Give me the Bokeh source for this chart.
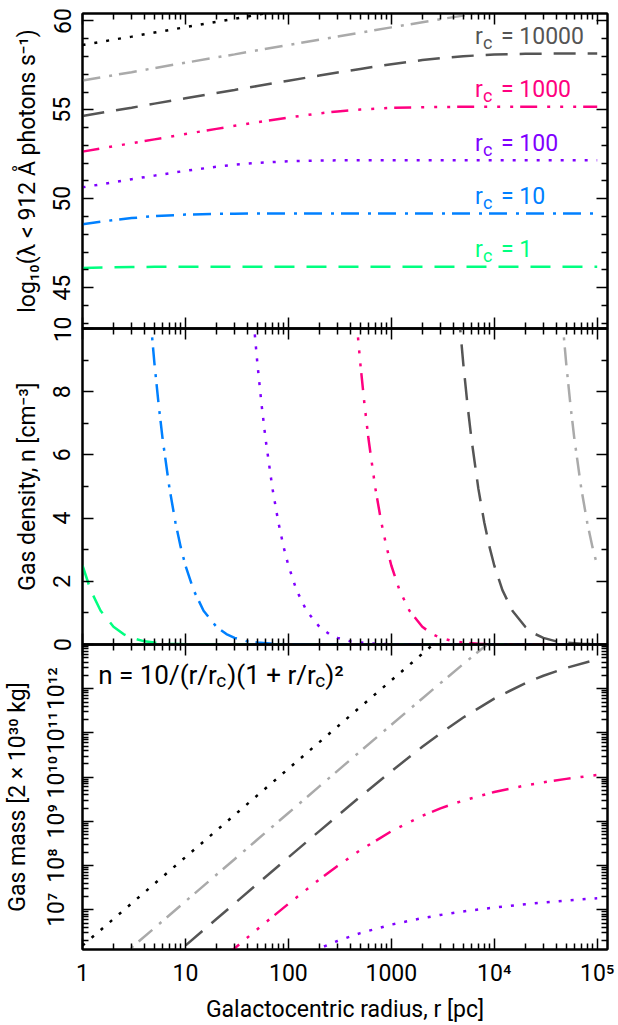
import numpy as np
from bokeh.plotting import figure
from bokeh.layouts import column
from bokeh.models import Range1d, FixedTicker, LinearAxis, LogAxis, Label
from bokeh.embed import file_html
from bokeh.resources import INLINE

# ------------------------------------------------------------------ data
# Galactocentric radius grid [pc] used by the top and bottom panels
radius_pc = [1, 2, 3, 5, 10, 20, 30, 50, 100, 200, 300, 500,
             1000, 2000, 3000, 5000, 10000, 20000, 30000, 50000, 100000]

# core radii r_c [pc] of the seven models (only five are labelled)
core_radius = ["1", "10", "100", "1000", "10000", "100000", "1000000"]
core_label = ["1", "10", "100", "1000", "10000", None, None]
line_color = ["#00FF80", "#0080FF", "#8000FF", "#FF0080", "#555555", "#AAAAAA", "#000000"]
line_dash = ["20 12", "18 9 3 7", "3 9", "17 10 3 10 3 10 3 7", "22 12", "18 9 3 7", "3 9"]

# top panel: log10 ionising photon rate (lambda < 912 A)
photons_rc1 = [46.11, 46.15, 46.16, 46.17, 46.17, 46.17, 46.17, 46.17, 46.17, 46.17, 46.17,
               46.17, 46.17, 46.17, 46.17, 46.17, 46.17, 46.17, 46.17, 46.17, 46.17]
photons_rc10 = [48.57, 48.80, 48.91, 49.02, 49.11, 49.15, 49.16, 49.17, 49.17, 49.17, 49.17,
                49.17, 49.17, 49.17, 49.17, 49.17, 49.17, 49.17, 49.17, 49.17, 49.17]
photons_rc100 = [50.64, 50.93, 51.10, 51.30, 51.57, 51.80, 51.91, 52.02, 52.11, 52.15, 52.16,
                 52.17, 52.17, 52.17, 52.17, 52.17, 52.17, 52.17, 52.17, 52.17, 52.17]
photons_rc1000 = [52.65, 52.95, 53.12, 53.34, 53.64, 53.93, 54.10, 54.30, 54.57, 54.80, 54.91,
                  55.02, 55.11, 55.15, 55.16, 55.17, 55.17, 55.17, 55.17, 55.17, 55.17]
photons_rc1e4 = [54.65, 54.95, 55.12, 55.35, 55.65, 55.95, 56.12, 56.34, 56.64, 56.93, 57.10,
                 57.30, 57.57, 57.80, 57.91, 58.02, 58.11, 58.15, 58.16, 58.17, 58.17]
photons_rc1e5 = [56.65, 56.95, 57.12, 57.35, 57.65, 57.95, 58.12, 58.35, 58.65, 58.95, 59.12,
                 59.34, 59.64, 59.93, 60.10, 60.30, 60.57, 60.80, 60.91, 61.02, 61.11]
photons_rc1e6 = [58.65, 58.95, 59.12, 59.35, 59.65, 59.95, 60.12, 60.35, 60.65, 60.95, 61.12,
                 61.35, 61.65, 61.95, 62.12, 62.35, 62.64, 62.93, 63.10, 63.30, 63.57]
photons = [photons_rc1, photons_rc10, photons_rc100, photons_rc1000,
           photons_rc1e4, photons_rc1e5, photons_rc1e6]

# middle panel: gas density n [cm^-3]
dens_r_rc1 = [1, 1.2, 1.5, 2, 2.5, 3, 4, 5, 7, 10, 20, 100000]
dens_n_rc1 = [2.50, 1.72, 1.07, 0.56, 0.33, 0.21, 0.10, 0.06, 0.02, 0.01, 0.00, 0.00]
dens_r_rc10 = [4.5, 5, 5.5, 6, 7, 8, 9, 10, 12, 15, 20, 25, 30, 40, 50, 70, 100, 200, 100000]
dens_n_rc10 = [10.57, 8.89, 7.57, 6.51, 4.94, 3.86, 3.08, 2.50, 1.72, 1.07, 0.56, 0.33, 0.21,
               0.10, 0.06, 0.02, 0.01, 0.00, 0.00]
dens_r_rc100 = [45, 50, 55, 60, 70, 80, 90, 100, 120, 150, 200, 250, 300, 400, 500, 700, 1000,
                2000, 100000]
dens_n_rc100 = [10.57, 8.89, 7.57, 6.51, 4.94, 3.86, 3.08, 2.50, 1.72, 1.07, 0.56, 0.33, 0.21,
                0.10, 0.06, 0.02, 0.01, 0.00, 0.00]
dens_r_rc1000 = [450, 500, 550, 600, 700, 800, 900, 1000, 1200, 1500, 2000, 2500, 3000, 4000,
                 5000, 7000, 10000, 20000, 100000]
dens_n_rc1000 = [10.57, 8.89, 7.57, 6.51, 4.94, 3.86, 3.08, 2.50, 1.72, 1.07, 0.56, 0.33, 0.21,
                 0.10, 0.06, 0.02, 0.01, 0.00, 0.00]
dens_r_rc1e4 = [4500, 5000, 5500, 6000, 7000, 8000, 9000, 10000, 12000, 15000, 20000, 25000,
                30000, 40000, 50000, 70000, 100000]
dens_n_rc1e4 = [10.57, 8.89, 7.57, 6.51, 4.94, 3.86, 3.08, 2.50, 1.72, 1.07, 0.56, 0.33, 0.21,
                0.10, 0.06, 0.02, 0.01]
dens_r_rc1e5 = [45000, 50000, 55000, 60000, 70000, 80000, 90000, 100000]
dens_n_rc1e5 = [10.57, 8.89, 7.57, 6.51, 4.94, 3.86, 3.08, 2.50]
density = [(dens_r_rc1, dens_n_rc1), (dens_r_rc10, dens_n_rc10), (dens_r_rc100, dens_n_rc100),
           (dens_r_rc1000, dens_n_rc1000), (dens_r_rc1e4, dens_n_rc1e4),
           (dens_r_rc1e5, dens_n_rc1e5)]

# bottom panel: log10 gas mass [2e30 kg] on the radius_pc grid
mass_log_rc100 = [2.183, 2.779, 3.126, 3.558, 4.133, 4.685, 4.989, 5.348, 5.776, 6.125, 6.293,
                  6.471, 6.663, 6.810, 6.882, 6.960, 7.049, 7.124, 7.163, 7.207, 7.261]
mass_log_rc1000 = [3.188, 3.790, 4.141, 4.584, 5.183, 5.779, 6.126, 6.558, 7.133, 7.685, 7.989,
                   8.348, 8.776, 9.125, 9.293, 9.471, 9.663, 9.810, 9.882, 9.960, 10.049]
mass_log_rc1e4 = [4.189, 4.791, 5.143, 5.587, 6.188, 6.790, 7.141, 7.584, 8.183, 8.779, 9.126,
                  9.558, 10.133, 10.685, 10.989, 11.348, 11.776, 12.125, 12.293, 12.471, 12.663]
mass_log_rc1e5 = [5.189, 5.791, 6.143, 6.587, 7.189, 7.791, 8.143, 8.587, 9.188, 9.790, 10.141,
                  10.584, 11.183, 11.779, 12.126, 12.558, 13.133, 13.685, 13.989, 14.348, 14.776]
mass_log_rc1e6 = [6.189, 6.791, 7.143, 7.587, 8.189, 8.791, 9.143, 9.587, 10.189, 10.791, 11.143,
                  11.587, 12.188, 12.790, 13.141, 13.584, 14.183, 14.779, 15.126, 15.558, 16.133]
mass = {2: mass_log_rc100, 3: mass_log_rc1000, 4: mass_log_rc1e4, 5: mass_log_rc1e5,
        6: mass_log_rc1e6}

x_tick_labels = {1: "1", 10: "10", 100: "100", 1000: "1000", 10000: "10\u2074", 100000: "10\u2075"}
mass_tick_labels = {1e7: "10\u2077", 1e8: "10\u2078", 1e9: "10\u2079", 1e10: "10\u00b9\u2070",
                    1e11: "10\u00b9\u00b9", 1e12: "10\u00b9\u00b2"}
formula_parts = ["n = 10/(r/r", "c", ")(1 + r/r", "c", ")\u00b2"]

# ------------------------------------------------------------------ style
FONT = "Roboto"
FS = "23px"
W = 618
LEFT, RIGHT = 81, 11
EXT = 12  # canvas overlap between stacked panels

x_major = [1, 10, 100, 1000, 10000, 100000]
x_minor = [k * 10 ** d for d in range(0, 5) for k in range(2, 10)]
shared_x = Range1d(1, 10 ** 5.1)


def style_axis(ax, ticks, minor, labelled=False, overrides=None, vertical=False):
    ax.ticker = FixedTicker(ticks=ticks, minor_ticks=minor)
    ax.major_tick_in = 11
    ax.major_tick_out = 0
    ax.minor_tick_in = 6
    ax.minor_tick_out = 0
    ax.major_tick_line_width = 1.5
    ax.minor_tick_line_width = 1.5
    ax.axis_line_width = 2
    ax.axis_line_color = "black"
    ax.major_tick_line_color = "black"
    ax.minor_tick_line_color = "black"
    if labelled:
        ax.major_label_text_font = FONT
        ax.major_label_text_font_size = FS
        ax.major_label_text_color = "black"
        ax.axis_label_text_font = FONT
        ax.axis_label_text_font_size = FS
        ax.axis_label_text_font_style = "normal"
        ax.axis_label_text_color = "black"
        if overrides:
            ax.major_label_overrides = overrides
        if vertical:
            ax.major_label_orientation = "vertical"
    else:
        ax.major_label_text_font_size = "1px"
        ax.major_label_text_alpha = 0
        ax.major_label_standoff = 0


def make_fig(height, y_range, y_log, top, bottom):
    p = figure(width=W, height=height, x_axis_type="log",
               y_axis_type="log" if y_log else "linear",
               x_range=shared_x, y_range=y_range, output_backend="svg",
               toolbar_location=None, min_border_left=LEFT, min_border_right=RIGHT,
               min_border_top=top, min_border_bottom=bottom,
               background_fill_color=None, border_fill_color=None,
               outline_line_color="black", outline_line_width=2)
    p.grid.visible = False
    p.add_layout(LogAxis(), "above")
    p.add_layout(LogAxis() if y_log else LinearAxis(), "right")
    return p


# ---------------- top panel
p1 = make_fig(328 + EXT, Range1d(42.7, 60.42), False, 13, EXT)
for i, vals in enumerate(photons):
    p1.line(radius_pc, vals, line_color=line_color[i], line_dash=line_dash[i], line_width=2.5)
for i, lab in enumerate(core_label):
    if lab is None:
        continue
    level = photons[i][-1]
    common = dict(x=6500, y=level, text_font=FONT, text_color=line_color[i],
                  text_baseline="alphabetic")
    p1.add_layout(Label(text="r", y_offset=17, text_font_size=FS, **common))
    p1.add_layout(Label(text="c", x_offset=8, y_offset=11, text_font_size="18px", **common))
    p1.add_layout(Label(text="= " + lab, x_offset=26, y_offset=17, text_font_size=FS, **common))

y1_major = [45, 50, 55, 60]
y1_minor = [v for v in range(43, 61) if v not in y1_major]
style_axis(p1.below[0], x_major, x_minor)
style_axis(p1.above[0], x_major, x_minor)
style_axis(p1.left[0], y1_major, y1_minor, labelled=True, vertical=True)
style_axis(p1.right[0], y1_major, y1_minor)
p1.left[0].axis_label = "log\u2081\u2080(\u03bb < 912 \u00c5 photons s\u207b\u00b9)"
p1.left[0].major_label_standoff = 12
p1.left[0].axis_label_standoff = 10

# ---------------- middle panel
p2 = make_fig(316 + 2 * EXT, Range1d(0, 10), False, EXT, EXT)
for i, (rr, nn) in enumerate(density):
    p2.line(rr, nn, line_color=line_color[i], line_dash=line_dash[i], line_width=2.5)
y2_major = [0, 2, 4, 6, 8, 10]
y2_minor = [1, 3, 5, 7, 9]
style_axis(p2.below[0], x_major, x_minor)
style_axis(p2.above[0], x_major, x_minor)
style_axis(p2.left[0], y2_major, y2_minor, labelled=True, vertical=True)
style_axis(p2.right[0], y2_major, y2_minor)
p2.left[0].axis_label = "Gas density, n [cm\u207b\u00b3]"
p2.left[0].major_label_standoff = 12
p2.left[0].axis_label_standoff = 10
p2.margin = (-2 * EXT, 0, 0, 0)

# ---------------- bottom panel
p3 = make_fig(1025 - 644 + EXT, Range1d(10 ** 6.1, 10 ** 13), True, EXT, 66)
for i, vals in mass.items():
    p3.line(radius_pc, [10 ** v for v in vals], line_color=line_color[i],
            line_dash=line_dash[i], line_width=2.5)
y3_major = [10.0 ** d for d in range(7, 13)]
y3_minor = [k * 10.0 ** d for d in range(6, 13) for k in range(2, 10)]
style_axis(p3.below[0], x_major, x_minor, labelled=True, overrides=x_tick_labels)
style_axis(p3.above[0], x_major, x_minor)
style_axis(p3.left[0], y3_major, y3_minor, labelled=True, overrides=mass_tick_labels,
           vertical=True)
style_axis(p3.right[0], y3_major, y3_minor)
p3.left[0].axis_label = "Gas mass [2 \u00d7 10\u00b3\u2070 kg]"
p3.left[0].major_label_standoff = 12
p3.left[0].axis_label_standoff = 10
p3.below[0].axis_label = "Galactocentric radius, r [pc]"
p3.below[0].major_label_standoff = 10
p3.below[0].axis_label_standoff = 6
p3.margin = (-2 * EXT, 0, 0, 0)

# formula annotation (pieces so that r_c gets a lowered c)
FS_F = "26px"
offsets = [(0, 9, FS_F), (118, 3, "19px"), (129, 9, FS_F), (217, 3, "19px"), (227, 9, FS_F)]
for part, (dx, dy, fs) in zip(formula_parts, offsets):
    p3.add_layout(Label(x=1.42, y=1.29e12, text=part, x_offset=dx, y_offset=dy,
                        text_font=FONT, text_font_size=fs, text_color="black",
                        text_baseline="alphabetic"))

layout = column(p1, p2, p3, spacing=0)
open("out.html", "w").write(file_html(layout, INLINE))
